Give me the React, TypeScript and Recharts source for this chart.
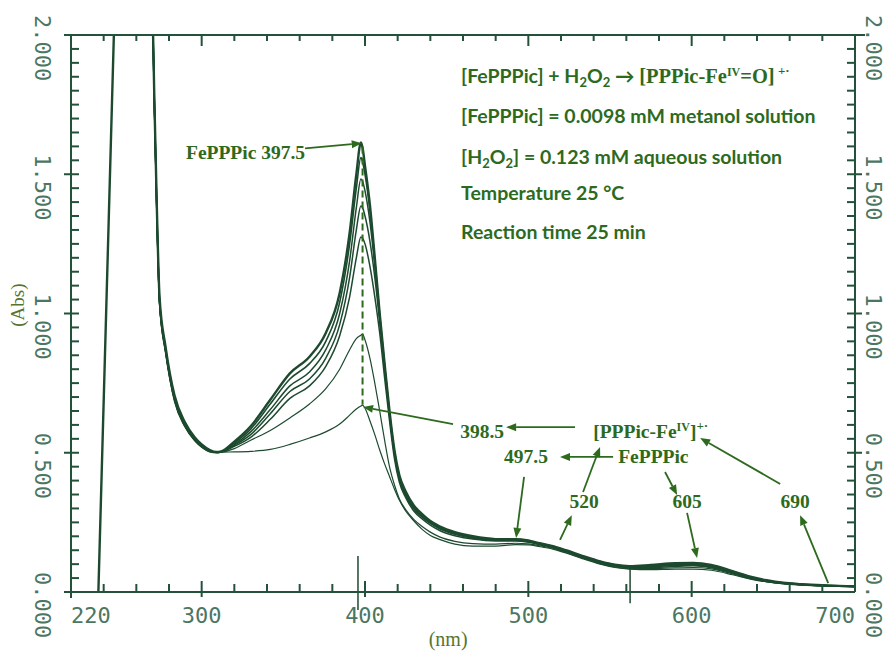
import React from "react";
import { LineChart, Line, XAxis, YAxis, ReferenceLine } from "recharts";

// ---------- data ----------
const wavelengths = [236.2, 241.5, 246.6, 258, 270, 271, 272.4, 274.2, 277.9, 283.4, 289.5, 295.7, 300, 305, 309, 312, 320, 330, 342, 354, 366, 376, 384.5, 390.6, 394.7, 397.5, 398.5, 400, 403, 406, 409, 412, 415, 418, 421, 425, 430, 435, 440, 446, 455, 466, 480, 492, 500, 507, 515, 523, 533, 544, 553, 562, 575, 590, 601, 612, 625, 636, 646, 656, 667, 680, 690, 700];

const s1 = [-0.118, 1.0, 2.075, null, 2.075, 1.78, 1.42, 1.06, 0.88, 0.705, 0.612, 0.556, 0.53, 0.51, 0.503, 0.505, 0.54, 0.595, 0.69, 0.785, 0.845, 0.93, 1.074, 1.29, 1.5, 1.614, 1.595, 1.53, 1.39, 1.2, 1.0, 0.82, 0.65, 0.51, 0.42, 0.36, 0.31, 0.28, 0.255, 0.235, 0.215, 0.2, 0.19, 0.19, 0.185, 0.175, 0.165, 0.15, 0.13, 0.11, 0.098, 0.093, 0.097, 0.103, 0.104, 0.097, 0.075, 0.055, 0.042, 0.033, 0.028, 0.024, 0.022, 0.02];
const s2 = [null, null, null, null, 2.075, 1.77, 1.41, 1.05, 0.875, 0.7, 0.608, 0.553, 0.528, 0.508, 0.502, 0.504, 0.535, 0.585, 0.675, 0.765, 0.82, 0.9, 1.04, 1.25, 1.45, 1.56, 1.545, 1.5, 1.37, 1.19, 0.995, 0.815, 0.645, 0.505, 0.415, 0.355, 0.305, 0.276, 0.252, 0.232, 0.212, 0.198, 0.189, 0.189, 0.184, 0.174, 0.164, 0.149, 0.129, 0.109, 0.097, 0.092, 0.095, 0.101, 0.102, 0.095, 0.074, 0.054, 0.041, 0.033, 0.028, 0.024, 0.022, 0.02];
const s3 = [null, null, null, null, 2.075, 1.77, 1.41, 1.05, 0.872, 0.697, 0.605, 0.551, 0.526, 0.507, 0.502, 0.504, 0.53, 0.575, 0.655, 0.74, 0.79, 0.87, 1.0, 1.19, 1.38, 1.483, 1.475, 1.44, 1.33, 1.17, 0.985, 0.81, 0.64, 0.5, 0.41, 0.35, 0.3, 0.272, 0.249, 0.229, 0.21, 0.196, 0.188, 0.188, 0.183, 0.173, 0.163, 0.148, 0.128, 0.108, 0.096, 0.091, 0.093, 0.098, 0.1, 0.093, 0.072, 0.053, 0.04, 0.032, 0.027, 0.023, 0.021, 0.02];
const s4 = [null, null, null, null, 2.075, 1.76, 1.4, 1.045, 0.868, 0.694, 0.603, 0.549, 0.525, 0.506, 0.501, 0.503, 0.527, 0.565, 0.64, 0.72, 0.765, 0.84, 0.96, 1.13, 1.3, 1.386, 1.38, 1.35, 1.26, 1.13, 0.97, 0.8, 0.635, 0.495, 0.405, 0.345, 0.297, 0.268, 0.246, 0.226, 0.207, 0.193, 0.186, 0.186, 0.181, 0.172, 0.162, 0.147, 0.127, 0.107, 0.095, 0.089, 0.091, 0.095, 0.097, 0.09, 0.07, 0.052, 0.039, 0.031, 0.027, 0.023, 0.021, 0.02];
const s5 = [null, null, null, null, 2.075, 1.76, 1.4, 1.04, 0.865, 0.69, 0.6, 0.547, 0.523, 0.505, 0.501, 0.503, 0.523, 0.555, 0.62, 0.695, 0.74, 0.81, 0.92, 1.06, 1.2, 1.275, 1.27, 1.25, 1.17, 1.06, 0.93, 0.77, 0.615, 0.48, 0.395, 0.338, 0.29, 0.262, 0.24, 0.22, 0.202, 0.19, 0.183, 0.183, 0.179, 0.17, 0.16, 0.145, 0.125, 0.105, 0.093, 0.087, 0.088, 0.092, 0.094, 0.087, 0.068, 0.05, 0.038, 0.031, 0.026, 0.023, 0.021, 0.02];
const s6 = [null, null, null, null, 2.075, 1.75, 1.39, 1.035, 0.86, 0.686, 0.597, 0.545, 0.521, 0.504, 0.5, 0.502, 0.515, 0.545, 0.58, 0.625, 0.675, 0.73, 0.8, 0.87, 0.91, 0.922, 0.926, 0.905, 0.84, 0.75, 0.65, 0.545, 0.45, 0.385, 0.335, 0.295, 0.26, 0.235, 0.215, 0.197, 0.182, 0.174, 0.172, 0.175, 0.173, 0.166, 0.157, 0.142, 0.122, 0.102, 0.09, 0.084, 0.084, 0.087, 0.088, 0.083, 0.065, 0.048, 0.037, 0.03, 0.026, 0.022, 0.021, 0.02];
const s7 = [null, null, null, null, 2.075, 1.75, 1.39, 1.03, 0.857, 0.683, 0.595, 0.543, 0.52, 0.503, 0.5, 0.502, 0.503, 0.505, 0.512, 0.53, 0.553, 0.575, 0.603, 0.635, 0.657, 0.668, 0.671, 0.66, 0.615, 0.565, 0.51, 0.46, 0.415, 0.37, 0.33, 0.29, 0.255, 0.225, 0.203, 0.188, 0.172, 0.165, 0.165, 0.17, 0.169, 0.163, 0.154, 0.14, 0.12, 0.1, 0.088, 0.082, 0.08, 0.082, 0.082, 0.078, 0.062, 0.046, 0.036, 0.029, 0.025, 0.022, 0.021, 0.02];

const xTicks = [220, 240, 260, 280, 300, 320, 340, 360, 380, 400, 420, 440, 460, 480, 500, 520, 540, 560, 580, 600, 620, 640, 660, 680, 700];
const xMajor = [300, 400, 500, 600, 700];
const xLabels = [220, 300, 400, 500, 600, 700];
const yTicks = [0, 0.05, 0.1, 0.15, 0.2, 0.25, 0.3, 0.35, 0.4, 0.45, 0.5, 0.55, 0.6, 0.65, 0.7, 0.75, 0.8, 0.85, 0.9, 0.95, 1, 1.05, 1.1, 1.15, 1.2, 1.25, 1.3, 1.35, 1.4, 1.45, 1.5, 1.55, 1.6, 1.65, 1.7, 1.75, 1.8, 1.85, 1.9, 1.95, 2];
const yLabels = [0, 0.5, 1, 1.5, 2];
const yLabelText = ["0.000", "0.500", "1.000", "1.500", "2.000"];

// annotation texts (anchored in data units: nm, Abs)
const labelNotes = [
  { text: "FePPPic 397.5", nm: 290.4, abs: 1.555, anchor: "start" },
  { text: "398.5", nm: 471.7, abs: 0.553, anchor: "middle" },
  { text: "497.5", nm: 498.6, abs: 0.463, anchor: "middle" },
  { text: "FePPPic", nm: 555, abs: 0.463, anchor: "start" },
  { text: "520", nm: 534.1, abs: 0.302, anchor: "middle" },
  { text: "605", nm: 597.2, abs: 0.302, anchor: "middle" },
  { text: "690", nm: 663.4, abs: 0.302, anchor: "middle" },
];
const arrowNotes = [
  [363.3, 1.593, 398.0, 1.611],
  [453.9, 0.603, 398.8, 0.664],
  [528.6, 0.592, 486.4, 0.592],
  [551.9, 0.485, 519.4, 0.485],
  [533.5, 0.359, 543.9, 0.521],
  [519.4, 0.187, 526.6, 0.276],
  [583.7, 0.431, 591.1, 0.348],
  [597.2, 0.284, 603.3, 0.122],
  [654.2, 0.388, 605.2, 0.553],
  [683.6, 0.032, 666.4, 0.276],
  [497.4, 0.413, 492.5, 0.194],
];
const infoLines = [
  { key: "l2", text: "[FePPPic] = 0.0098 mM metanol solution", abs: 1.684 },
  { key: "l4", text: "Temperature 25 °C", abs: 1.408 },
  { key: "l5", text: "Reaction time 25 min", abs: 1.268 },
];

const data = wavelengths.map((w, i) => ({ nm: w, s1: s1[i], s2: s2[i], s3: s3[i], s4: s4[i], s5: s5[i], s6: s6[i], s7: s7[i] }));

// ---------- geometry & styles ----------
const W = 889, H = 652;
const LEFT_W = 71, RIGHT_W = 34, TOP_H = 35, BOTTOM_H = 60;
const X_DOM = [220, 700];
const Y_DOM = [0, 2];
// overlay helpers (same linear mapping as the chart's plot area) for annotations and frame tick marks
const px = (nm: number) => LEFT_W + ((nm - X_DOM[0]) / (X_DOM[1] - X_DOM[0])) * (W - LEFT_W - RIGHT_W);
const py = (a: number) => TOP_H + ((Y_DOM[1] - a) / (Y_DOM[1] - Y_DOM[0])) * (H - TOP_H - BOTTOM_H);

const CURVE = "#1d4a2f";
const AXIS = "#23513a";
const TICKTXT = "#4b7661";
const NOTE = "#2d6a1d";
const AXLBL = "#55752f";
const MONO = '"DejaVu Sans Mono", monospace';
const SERIF = '"Liberation Serif", "Times New Roman", serif';
const SANS = 'Lato, "Open Sans", sans-serif';
const TW = 2;

const isMajorY = (v: number) => Math.abs(v * 2 - Math.round(v * 2)) < 1e-6;
const yLabelOf = (v: number) => {
  const i = yLabels.findIndex((l) => Math.abs(l - v) < 1e-6);
  return i >= 0 ? yLabelText[i] : null;
};

const BottomTick = (p: any) => {
  const x = Number(p.x), y = Number(p.y);
  const v = p.payload.value;
  if (!xLabels.includes(v)) return <g />;
  return (
    <text x={x} y={y + 31} textAnchor={v === 220 ? "start" : v === 700 ? "end" : "middle"} fontFamily={MONO} fontSize={22} fill={TICKTXT}>
      {v}
    </text>
  );
};

const LeftTick = (p: any) => {
  const x = Number(p.x), y = Number(p.y);
  const lbl = yLabelOf(p.payload.value);
  if (!lbl) return <g />;
  return (
    <g transform={`translate(${x - 36},${y}) rotate(90)`}>
      <text x={-20} y={0} fontFamily={MONO} fontSize={22} fill={TICKTXT}>{lbl}</text>
    </g>
  );
};

const RightTick = (p: any) => {
  const x = Number(p.x), y = Number(p.y);
  const lbl = yLabelOf(p.payload.value);
  if (!lbl) return <g />;
  return (
    <g transform={`translate(${x + 11},${y}) rotate(90)`}>
      <text x={-20} y={0} fontFamily={MONO} fontSize={22} fill={TICKTXT}>{lbl}</text>
    </g>
  );
};

const Arrow = ({ a }: any) => {
  const x1 = px(a[0]), y1 = py(a[1]), x2 = px(a[2]), y2 = py(a[3]);
  const ang = Math.atan2(y2 - y1, x2 - x1);
  const L = 10, HW = 4;
  const bx = x2 - L * Math.cos(ang);
  const by = y2 - L * Math.sin(ang);
  const qx = -Math.sin(ang) * HW;
  const qy = Math.cos(ang) * HW;
  return (
    <g>
      <line x1={x1} y1={y1} x2={bx} y2={by} stroke={NOTE} strokeWidth={1.8} />
      <polygon points={`${x2},${y2} ${bx + qx},${by + qy} ${bx - qx},${by - qy}`} fill={NOTE} />
    </g>
  );
};

function FrameTicks() {
  const x0 = px(X_DOM[0]), x1 = px(X_DOM[1]);
  const yb = py(Y_DOM[0]), yt = py(Y_DOM[1]);
  const inner = xTicks.filter((v) => v !== X_DOM[0] && v !== X_DOM[1]);
  const innerY = yTicks.filter((v) => v !== Y_DOM[0] && v !== Y_DOM[1]);
  return (
    <g stroke={AXIS} strokeWidth={TW}>
      {inner.map((v) => {
        const major = xMajor.includes(v);
        const x = px(v);
        return (
          <g key={`x${v}`}>
            <line x1={x} x2={x} y1={major ? yb - 11 : yb - 8} y2={major ? yb + 5 : yb} />
            <line x1={x} x2={x} y1={yt} y2={major ? yt + 11 : yt + 6} />
          </g>
        );
      })}
      {innerY.map((v) => {
        const major = isMajorY(v);
        const y = py(v);
        return (
          <g key={`y${v}`}>
            <line x1={major ? x0 - 7 : x0} x2={x0 + 8} y1={y} y2={y} />
            <line x1={x1 - 8} x2={major ? x1 + 7 : x1} y1={y} y2={y} />
          </g>
        );
      })}
      <line x1={x0 - 7} x2={x0} y1={yb} y2={yb} />
      <line x1={x0} x2={x0} y1={yb} y2={yb + 6} />
      <line x1={x0 - 7} x2={x0} y1={yt} y2={yt} />
      <line x1={x1} x2={x1 + 10} y1={yt} y2={yt} />
    </g>
  );
}

const sub = { fontSize: 13 };

function Annotations() {
  const ix = px(458.8);
  return (
    <svg width={W} height={H} style={{ position: "absolute", left: 0, top: 0, pointerEvents: "none", overflow: "visible" }}>
      <FrameTicks />
      {arrowNotes.map((a, i) => (
        <Arrow key={`ar${i}`} a={a} />
      ))}
      {labelNotes.map((n, i) => (
        <text key={`ln${i}`} x={px(n.nm)} y={py(n.abs)} textAnchor={n.anchor as any} fontFamily={SERIF} fontSize={19.5} fontWeight={700} fill={NOTE}>
          {n.text}
        </text>
      ))}
      <text x={px(539.7)} y={py(0.553)} fontFamily={SERIF} fontSize={19.5} fontWeight={700} fill={NOTE}>
        [PPPic-Fe<tspan fontSize={12} dy={-7}>IV</tspan>
        <tspan dy={7}>]</tspan>
        <tspan fontSize={13} dy={-8}>+·</tspan>
      </text>

      <text x={ix} y={py(1.828)} fontFamily={SANS} fontSize={19.5} fontWeight={700} fill={NOTE}>
        [FePPPic] + H<tspan dy={4} {...sub}>2</tspan>
        <tspan dy={-4}>O</tspan>
        <tspan dy={4} {...sub}>2</tspan>
        <tspan dy={-4}> → </tspan>
        <tspan fontFamily={SERIF} fontWeight={700} fontSize={20.5}>[PPPic-Fe</tspan>
        <tspan fontFamily={SERIF} fontWeight={700} fontSize={12} dy={-7}>IV</tspan>
        <tspan fontFamily={SERIF} fontWeight={700} fontSize={20.5} dy={7}>=O]</tspan>
        <tspan fontFamily={SERIF} fontWeight={700} fontSize={13} dy={-8}> +·</tspan>
      </text>
      <text x={ix} y={py(1.537)} fontFamily={SANS} fontSize={19.5} fontWeight={700} fill={NOTE}>
        [H<tspan dy={4} {...sub}>2</tspan>
        <tspan dy={-4}>O</tspan>
        <tspan dy={4} {...sub}>2</tspan>
        <tspan dy={-4}>] = 0.123 mM aqueous solution</tspan>
      </text>
      {infoLines.map((l) => (
        <text key={l.key} x={ix} y={py(l.abs)} fontFamily={SANS} fontSize={19.5} fontWeight={700} fill={NOTE}>
          {l.text}
        </text>
      ))}

      <text x={px(450.9)} y={py(-0.194)} textAnchor="middle" fontFamily={SERIF} fontSize={20} fill={AXLBL}>(nm)</text>
      <g transform={`translate(${px(191.2)},${py(1.03)}) rotate(-90)`}>
        <text x={0} y={0} textAnchor="middle" fontFamily={SERIF} fontSize={19} fill={AXLBL}>(Abs)</text>
      </g>
    </svg>
  );
}

export default function App() {
  return (
    <div style={{ position: "relative", width: W, height: H, background: "#fff" }}>
      <style>{`body{margin:0;background:#fff} .recharts-line{clip-path:none !important}`}</style>
      <LineChart width={W} height={H} data={data} margin={{ top: 0, right: 0, bottom: 0, left: 0 }}>
        <XAxis
          dataKey="nm"
          type="number"
          domain={X_DOM}
          allowDataOverflow
          ticks={xTicks}
          interval={0}
          height={BOTTOM_H}
          tickSize={0}
          tickMargin={0}
          tickLine={false}
          axisLine={{ stroke: AXIS, strokeWidth: 2 }}
          tick={<BottomTick />}
        />
        <XAxis
          xAxisId="top"
          orientation="top"
          dataKey="nm"
          type="number"
          domain={X_DOM}
          allowDataOverflow
          ticks={xTicks}
          height={TOP_H}
          tickLine={false}
          tick={false}
          axisLine={{ stroke: AXIS, strokeWidth: 2 }}
        />
        <YAxis
          type="number"
          domain={Y_DOM}
          allowDataOverflow
          ticks={yTicks}
          interval={0}
          width={LEFT_W}
          tickSize={0}
          tickMargin={0}
          tickLine={false}
          axisLine={{ stroke: AXIS, strokeWidth: 2 }}
          tick={<LeftTick />}
        />
        <YAxis
          yAxisId="right"
          orientation="right"
          type="number"
          domain={Y_DOM}
          allowDataOverflow
          ticks={yTicks}
          interval={0}
          width={RIGHT_W}
          tickSize={0}
          tickMargin={0}
          tickLine={false}
          axisLine={{ stroke: AXIS, strokeWidth: 2 }}
          tick={<RightTick />}
        />

        <Line dataKey="s7" type="monotone" dot={false} stroke={CURVE} strokeWidth={1.2} isAnimationActive={false} />
        <Line dataKey="s6" type="monotone" dot={false} stroke={CURVE} strokeWidth={1.2} isAnimationActive={false} />
        <Line dataKey="s5" type="monotone" dot={false} stroke={CURVE} strokeWidth={1.5} isAnimationActive={false} />
        <Line dataKey="s4" type="monotone" dot={false} stroke={CURVE} strokeWidth={1.5} isAnimationActive={false} />
        <Line dataKey="s3" type="monotone" dot={false} stroke={CURVE} strokeWidth={1.5} isAnimationActive={false} />
        <Line dataKey="s2" type="monotone" dot={false} stroke={CURVE} strokeWidth={1.6} isAnimationActive={false} />
        <Line dataKey="s1" type="monotone" dot={false} stroke={CURVE} strokeWidth={2.4} isAnimationActive={false} />

        {/* instrument wavelength markers */}
        <ReferenceLine segment={[{ x: 395.7, y: -0.065 }, { x: 395.7, y: 0.129 }]} stroke={CURVE} strokeWidth={1.5} ifOverflow="visible" />
        <ReferenceLine segment={[{ x: 562.3, y: -0.04 }, { x: 562.3, y: 0.09 }]} stroke={CURVE} strokeWidth={1.5} ifOverflow="visible" />

        {/* dashed peak marker */}
        <ReferenceLine segment={[{ x: 398.5, y: 1.6 }, { x: 398.5, y: 0.672 }]} stroke={NOTE} strokeWidth={2} strokeDasharray="7 4" ifOverflow="visible" />
      </LineChart>
      <Annotations />
    </div>
  );
}
